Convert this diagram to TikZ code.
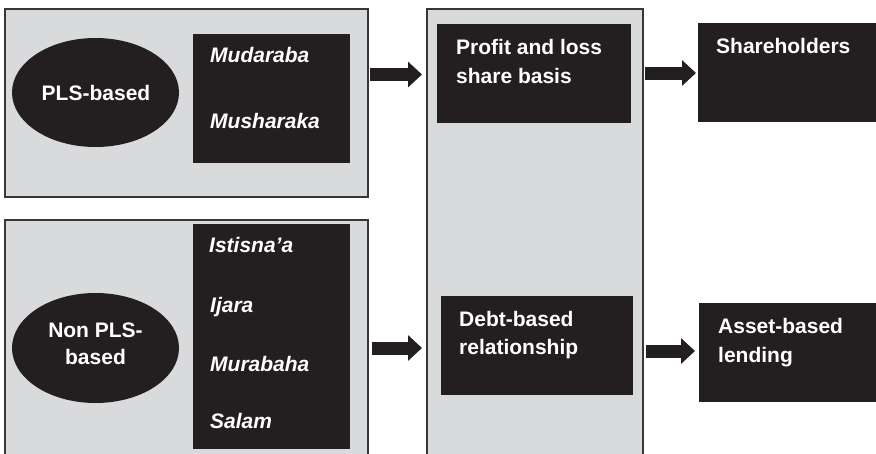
\documentclass[tikz,border=0pt]{standalone}
\usepackage{fontspec}
\setmainfont{Liberation Sans}
\usetikzlibrary{arrows.meta,shapes.geometric}
\definecolor{panelgray}{RGB}{217,218,220}
\definecolor{boxblack}{RGB}{35,31,32}
\definecolor{edgegray}{RGB}{55,55,55}
\tikzset{
  panel/.style={draw=edgegray, line width=1.5pt, fill=panelgray, rectangle, inner sep=0pt},
  blackbox/.style={fill=boxblack, rectangle, inner sep=0pt},
  blackoval/.style={fill=boxblack, ellipse, inner sep=0pt},
  wtext/.style={text=white, font=\fontsize{21}{28}\selectfont\bfseries, inner sep=0pt, align=left},
  itext/.style={text=white, font=\fontsize{21}{28}\selectfont\bfseries\itshape, inner sep=0pt, anchor=base west},
  blockarrow/.style={draw=boxblack, line width=13pt, line cap=butt,
     -{Triangle[width=25pt,length=14pt]}}
}
\begin{document}
\begin{tikzpicture}[x=1pt,y=-1pt]
\useasboundingbox (0,0) rectangle (876,453);
% panels
\node[panel, minimum width=363pt, minimum height=188pt] (plspanel) at (186.5,103) {};
\node[panel, minimum width=363pt, minimum height=250pt] (nonpanel) at (186.5,345) {};
\node[panel, minimum width=216pt, minimum height=460pt] (midpanel) at (535,239) {};
% PLS-based
\node[blackoval, minimum width=167pt, minimum height=109pt] (plsoval) at (95.5,92.5) {};
\node[wtext, anchor=base] (plstext) at (96,100) {PLS-based};
\node[blackbox, minimum width=157pt, minimum height=129pt] (plslist) at (271.5,98.5) {};
\node[itext] (mudaraba) at (210,62) {Mudaraba};
\node[itext] (musharaka) at (210,128) {Musharaka};
% Non PLS-based
\node[blackoval, minimum width=167pt, minimum height=110pt] (nonoval) at (95.5,348) {};
\node[wtext, align=center, anchor=base, font=\fontsize{21}{27}\selectfont\bfseries] (nontext) at (95.5,364) {Non PLS-\\based};
\node[blackbox, minimum width=157pt, minimum height=225pt] (nonlist) at (271.5,336.5) {};
\node[itext] (istisna) at (209,252) {Istisna’a};
\node[itext] (ijara) at (210,312) {Ijara};
\node[itext] (murabaha) at (210,371) {Murabaha};
\node[itext] (salam) at (210,428) {Salam};
% middle boxes
\node[blackbox, minimum width=194pt, minimum height=99pt] (profit) at (534,73.5) {};
\node[wtext, anchor=base west, font=\fontsize{21}{29}\selectfont\bfseries] (profittext) at (456,83) {Profit and loss\\share basis};
\node[blackbox, minimum width=192pt, minimum height=99pt] (debt) at (537,345.5) {};
\node[wtext, anchor=base west] (debttext) at (459,354) {Debt-based\\relationship};
% right boxes
\node[blackbox, minimum width=190pt, minimum height=99pt] (share) at (793,72.5) {};
\node[wtext, anchor=base west] (sharetext) at (716,53) {Shareholders};
\node[blackbox, minimum width=190pt, minimum height=99pt] (asset) at (794,352.5) {};
\node[wtext, anchor=base west, font=\fontsize{21}{29}\selectfont\bfseries] (assettext) at (718,362) {Asset-based\\lending};
% arrows
\coordinate (a1s) at (370,74.5);
\coordinate (a1e) at (422,74.5);
\coordinate (a2s) at (645,73);
\coordinate (a2e) at (696,73);
\coordinate (a3s) at (372,348);
\coordinate (a3e) at (422,348);
\coordinate (a4s) at (646,351);
\coordinate (a4e) at (695,351);
\draw[blockarrow] (a1s) -- (a1e);
\draw[blockarrow] (a2s) -- (a2e);
\draw[blockarrow] (a3s) -- (a3e);
\draw[blockarrow] (a4s) -- (a4e);
\end{tikzpicture}
\end{document}
